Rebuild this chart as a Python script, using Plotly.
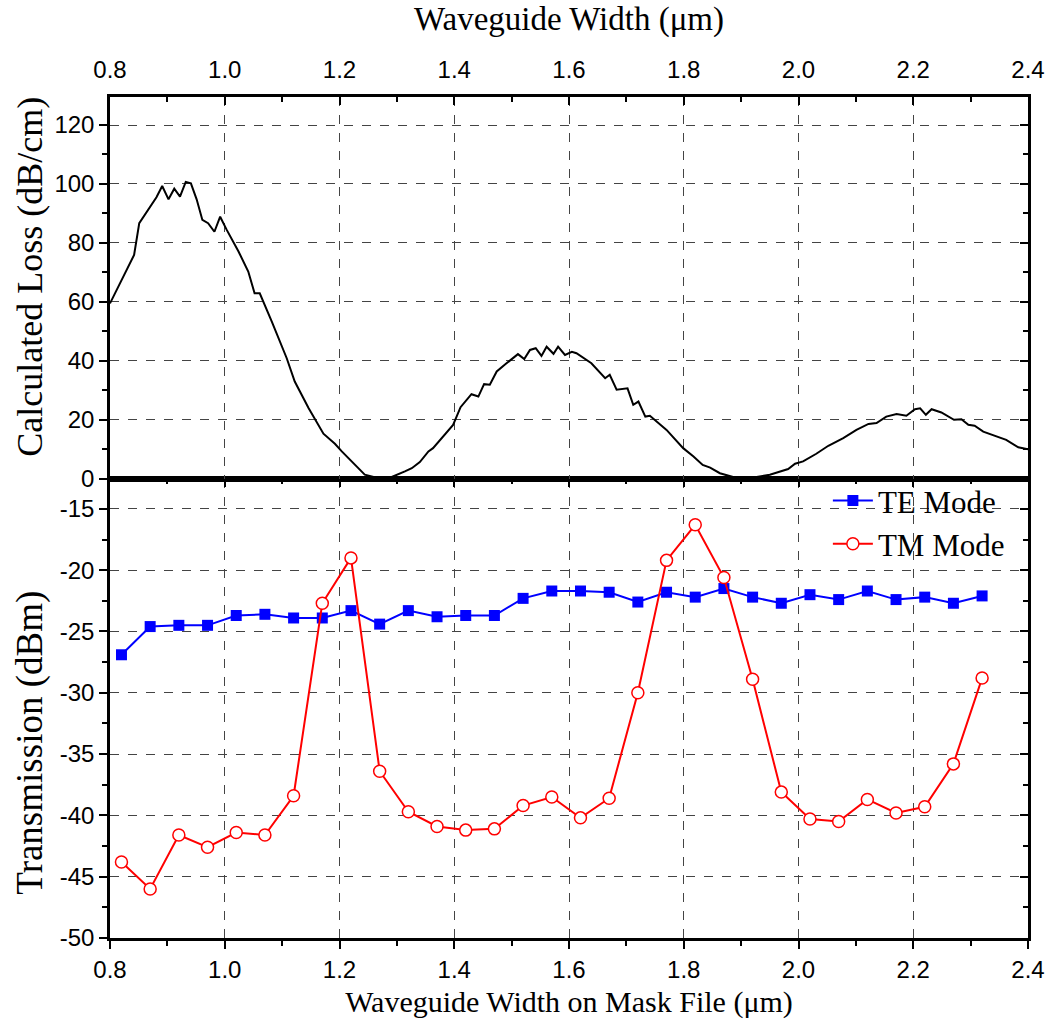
import plotly.graph_objects as go

# ---- data ----
loss_x = [0.800, 0.842, 0.851, 0.864, 0.881, 0.891, 0.902, 0.912, 0.922, 0.932, 0.941, 0.951,
          0.961, 0.971, 0.982, 0.992, 1.003, 1.024, 1.041, 1.052, 1.061, 1.082, 1.108, 1.122,
          1.146, 1.172, 1.192, 1.204, 1.224, 1.244, 1.268, 1.291, 1.314, 1.326, 1.340, 1.355,
          1.363, 1.381, 1.398, 1.411, 1.430, 1.442, 1.452, 1.462, 1.474, 1.490, 1.511, 1.522,
          1.532, 1.542, 1.552, 1.561, 1.573, 1.581, 1.593, 1.605, 1.613, 1.639, 1.654, 1.663,
          1.671, 1.683, 1.702, 1.712, 1.721, 1.733, 1.741, 1.770, 1.799, 1.817, 1.833, 1.846,
          1.863, 1.886, 1.904, 1.927, 1.950, 1.971, 1.982, 1.994, 2.008, 2.031, 2.052, 2.078,
          2.101, 2.122, 2.136, 2.153, 2.171, 2.188, 2.203, 2.212, 2.222, 2.232, 2.249, 2.271,
          2.284, 2.296, 2.307, 2.322, 2.345, 2.362, 2.383, 2.400]
loss_y = [59.5, 75.9, 86.7, 90.6, 95.5, 99.3, 94.8, 98.4, 95.7, 100.7, 100.2, 94.8,
          87.8, 86.7, 83.8, 88.9, 84.6, 77.1, 70.3, 62.9, 62.9, 53.3, 40.9, 33.0,
          24.0, 15.3, 11.9, 9.3, 5.3, 1.4, 0.2, 0.6, 2.5, 3.6, 5.7, 9.3,
          10.4, 14.6, 18.3, 24.3, 28.7, 27.9, 32.1, 31.9, 36.4, 39.0, 42.3, 40.6,
          43.7, 44.3, 41.7, 44.8, 42.4, 44.8, 42.0, 43.1, 42.6, 39.2, 35.8, 34.1,
          35.3, 30.2, 30.7, 25.1, 26.2, 21.1, 21.4, 16.6, 10.4, 7.6, 4.7, 3.8,
          1.9, 0.6, 0.2, 0.6, 1.4, 2.8, 3.3, 5.1, 5.9, 8.5, 11.2, 13.8,
          16.6, 18.6, 18.9, 21.1, 22.0, 21.4, 23.6, 23.9, 21.7, 23.6, 22.5, 20.0,
          20.2, 18.3, 18.0, 16.0, 14.3, 13.2, 10.7, 10.0]

mask_x = [0.82, 0.87, 0.92, 0.97, 1.02, 1.07, 1.12, 1.17, 1.22, 1.27, 1.32, 1.37, 1.42, 1.47,
          1.52, 1.57, 1.62, 1.67, 1.72, 1.77, 1.82, 1.87, 1.92, 1.97, 2.02, 2.07, 2.12, 2.17,
          2.22, 2.27, 2.32]
te_y = [-26.9, -24.6, -24.5, -24.5, -23.7, -23.6, -23.9, -23.9, -23.3, -24.4, -23.3, -23.8,
        -23.7, -23.7, -22.3, -21.7, -21.7, -21.8, -22.6, -21.8, -22.2, -21.5, -22.2, -22.7,
        -22.0, -22.4, -21.7, -22.4, -22.2, -22.7, -22.1]
tm_y = [-43.8, -46.0, -41.6, -42.6, -41.4, -41.6, -38.4, -22.7, -19.0, -36.4, -39.7, -40.9,
        -41.2, -41.1, -39.2, -38.5, -40.2, -38.6, -30.0, -19.2, -16.3, -20.6, -28.9, -38.1,
        -40.3, -40.5, -38.7, -39.8, -39.3, -35.8, -28.8]

x_ticks = [0.8, 1.0, 1.2, 1.4, 1.6, 1.8, 2.0, 2.2, 2.4]
x_ticktext = ["0.8", "1.0", "1.2", "1.4", "1.6", "1.8", "2.0", "2.2", "2.4"]
loss_ticks = [0, 20, 40, 60, 80, 100, 120]
tr_ticks = [-50, -45, -40, -35, -30, -25, -20, -15]
tr_ticktext = ["-50", "-45", "-40", "-35", "-30", "-25", "-20", "-15"]

# ---- style ----
SANS = "Liberation Sans, Arial, sans-serif"
SERIF = "Liberation Serif, Times New Roman, serif"
TICKF = dict(family=SANS, size=24, color="black")
GRID = "#444444"
LW = 2.5
XR = [0.8, 2.4]
Y1R = [-50, -12.55]
Y2R = [0, 129.5]
SPLIT = 0.546

fig = go.Figure()

fig.add_trace(go.Scatter(x=loss_x, y=loss_y, mode="lines", line=dict(color="black", width=2),
                         xaxis="x2", yaxis="y2", showlegend=False))
fig.add_trace(go.Scatter(x=mask_x, y=te_y, mode="lines+markers", name="TE Mode",
                         line=dict(color="#0000ff", width=2),
                         marker=dict(symbol="square", size=11, color="#0000ff"),
                         xaxis="x", yaxis="y"))
fig.add_trace(go.Scatter(x=mask_x, y=tm_y, mode="lines+markers", name="TM Mode",
                         line=dict(color="#ff0000", width=2),
                         marker=dict(symbol="circle", size=12, color="white",
                                     line=dict(color="#ff0000", width=1.5)),
                         xaxis="x", yaxis="y"))
# helper traces so overlay axes are drawn
fig.add_trace(go.Scatter(x=[None], y=[None], xaxis="x3", yaxis="y", showlegend=False, hoverinfo="skip"))
fig.add_trace(go.Scatter(x=[None], y=[None], xaxis="x", yaxis="y3", showlegend=False, hoverinfo="skip"))
fig.add_trace(go.Scatter(x=[None], y=[None], xaxis="x2", yaxis="y4", showlegend=False, hoverinfo="skip"))

common_line = dict(showline=True, linecolor="black", linewidth=LW, zeroline=False, automargin=False)

fig.update_layout(
    width=1055, height=1019,
    margin=dict(l=110, r=27, t=97, b=81),
    paper_bgcolor="white", plot_bgcolor="white",
    showlegend=True,
    legend=dict(x=0.782, y=0.552, xanchor="left", yanchor="top",
                font=dict(family=SERIF, size=31, color="black"),
                bgcolor="rgba(0,0,0,0)", tracegroupgap=0, itemwidth=40),
    # bottom panel
    xaxis=dict(domain=[0, 1], anchor="y", range=XR, side="bottom",
               tickvals=x_ticks, ticktext=x_ticktext, tickfont=TICKF,
               ticks="outside", ticklen=8, tickwidth=2, tickcolor="black",
               minor=dict(ticks="outside", dtick=0.1, tick0=0.8, ticklen=5, tickwidth=2,
                          tickcolor="black", showgrid=False),
               showgrid=True, gridcolor=GRID, griddash="dash", gridwidth=1,
               mirror=True,
               title=dict(text="Waveguide Width on Mask File (μm)",
                          font=dict(family=SERIF, size=30, color="black"), standoff=14),
               **common_line),
    yaxis=dict(domain=[0, SPLIT], anchor="x", range=Y1R,
               tickvals=tr_ticks, ticktext=tr_ticktext, tickfont=TICKF,
               ticks="outside", ticklen=8, tickwidth=2, tickcolor="black",
               minor=dict(ticks="outside", dtick=2.5, tick0=-50, ticklen=5, tickwidth=2,
                          tickcolor="black", showgrid=False),
               showgrid=True, gridcolor=GRID, griddash="dash", gridwidth=1,
               mirror=True, **common_line),
    xaxis3=dict(overlaying="x", anchor="y", side="top", range=XR,
                tickvals=x_ticks, showticklabels=False,
                ticks="inside", ticklen=8, tickwidth=2, tickcolor="black",
                minor=dict(ticks="inside", dtick=0.1, tick0=0.8, ticklen=5, tickwidth=2,
                           tickcolor="black"),
                showgrid=False, showline=False, zeroline=False),
    yaxis3=dict(overlaying="y", anchor="x", side="right", range=Y1R,
                tickvals=tr_ticks, showticklabels=False,
                ticks="inside", ticklen=8, tickwidth=2, tickcolor="black",
                minor=dict(ticks="inside", dtick=2.5, tick0=-50, ticklen=5, tickwidth=2,
                           tickcolor="black"),
                showgrid=False, showline=False, zeroline=False),
    # top panel
    xaxis2=dict(domain=[0, 1], anchor="y2", range=XR, side="top", matches="x",
                tickvals=x_ticks, ticktext=x_ticktext, tickfont=TICKF,
                ticks="inside", ticklen=8, tickwidth=2, tickcolor="black",
                ticklabelstandoff=7,
                minor=dict(ticks="inside", dtick=0.1, tick0=0.8, ticklen=5, tickwidth=2,
                           tickcolor="black", showgrid=False),
                showgrid=True, gridcolor=GRID, griddash="dash", gridwidth=1,
                mirror=True,
                title=dict(text="Waveguide Width (μm)",
                           font=dict(family=SERIF, size=33, color="black"), standoff=16),
                **common_line),
    yaxis2=dict(domain=[SPLIT, 1], anchor="x2", range=Y2R,
                tickvals=loss_ticks, tickfont=TICKF,
                ticks="outside", ticklen=8, tickwidth=2, tickcolor="black",
                minor=dict(ticks="outside", dtick=10, tick0=0, ticklen=5, tickwidth=2,
                           tickcolor="black", showgrid=False),
                showgrid=True, gridcolor=GRID, griddash="dash", gridwidth=1,
                mirror=True, **common_line),
    yaxis4=dict(overlaying="y2", anchor="x2", side="right", range=Y2R,
                tickvals=loss_ticks, showticklabels=False,
                ticks="inside", ticklen=8, tickwidth=2, tickcolor="black",
                minor=dict(ticks="inside", dtick=10, tick0=0, ticklen=5, tickwidth=2,
                           tickcolor="black"),
                showgrid=False, showline=False, zeroline=False),
    annotations=[
        dict(text="Calculated Loss (dB/cm)", textangle=-90, xref="paper", yref="paper",
             x=-0.0875, y=(1019 - 81 - 277) / 841.0, xanchor="center", yanchor="middle",
             showarrow=False, font=dict(family=SERIF, size=36, color="black")),
        dict(text="Transmission (dBm)", textangle=-90, xref="paper", yref="paper",
             x=-0.0875, y=(1019 - 81 - 743) / 841.0, xanchor="center", yanchor="middle",
             showarrow=False, font=dict(family=SERIF, size=37, color="black")),
    ],
)

fig.write_html("out.html")
